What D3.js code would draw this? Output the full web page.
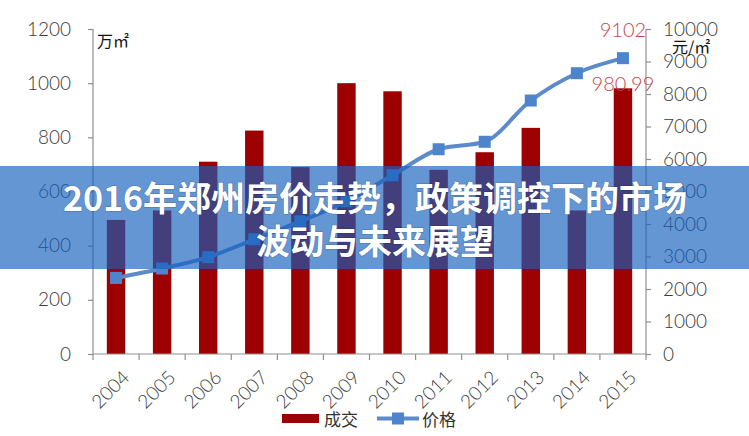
<!DOCTYPE html>
<html><head><meta charset="utf-8">
<script src="https://cdn.jsdelivr.net/npm/d3@7"></script>
<style>
html,body{margin:0;padding:0;background:#fff;}
svg{display:block;}
</style></head>
<body>
<svg id="c" width="749" height="436"></svg>
<script>
const years = ["2004","2005","2006","2007","2008","2009","2010","2011","2012","2013","2014","2015"];
const sales = [495, 530, 710, 825, 690, 1000, 970, 680, 745, 835, 530, 980.99];
const prices = [2340, 2630, 2980, 3530, 4080, 4700, 5500, 6300, 6530, 7800, 8640, 9102];
const leftTicks = [0, 200, 400, 600, 800, 1000, 1200];
const rightTicks = [0, 1000, 2000, 3000, 4000, 5000, 6000, 7000, 8000, 9000, 10000];
const seriesNames = ["成交", "价格"];
const leftUnit = "万㎡";
const rightUnit = "元/㎡";
const titleLines = ["2016年郑州房价走势，政策调控下的市场", "波动与未来展望"];

const svg = d3.select("#c");
const L = 93, R = 646, T = 29, B = 354;
const axisColor = "#8f8f8f";
const tickFont = "Lato, 'Open Sans', sans-serif";

const x = d3.scaleBand().domain(years).range([L, R]).padding(0);
const yL = d3.scaleLinear().domain([0, 1200]).range([B, T]);
const yR = d3.scaleLinear().domain([0, 10000]).range([B, T]);
const bw = x.bandwidth();

// bars
svg.append("g").selectAll("rect").data(years).join("rect")
  .attr("x", d => x(d) + bw * 0.3)
  .attr("width", bw * 0.4)
  .attr("y", (d, i) => yL(sales[i]))
  .attr("height", (d, i) => B - yL(sales[i]))
  .attr("fill", "#9c0000");

// left axis
const gL = svg.append("g").attr("transform", `translate(${L},0)`)
  .call(d3.axisLeft(yL).tickValues(leftTicks).tickSize(5).tickPadding(17).tickFormat(d3.format("d")));
// right axis
const gR = svg.append("g").attr("transform", `translate(${R},0)`)
  .call(d3.axisRight(yR).tickValues(rightTicks).tickSize(5).tickPadding(12).tickFormat(d3.format("d")));
// bottom axis
const gB = svg.append("g").attr("transform", `translate(0,${B})`)
  .call(d3.axisBottom(x).tickSize(0).tickPadding(8));
[gL, gR, gB].forEach(g => {
  g.select(".domain").attr("stroke", axisColor).attr("stroke-width", 1.2);
  g.selectAll(".tick line").attr("stroke", axisColor).attr("stroke-width", 1.2);
  g.selectAll("text").attr("font-family", tickFont).attr("font-weight", 300)
    .attr("font-size", 19).attr("fill", "#3a3a3a");
});
gR.select(".domain").attr("d", `M0,${T}V${B}`);
gL.select(".domain").attr("d", `M0,${T}V${B}`);
gB.select(".domain").attr("d", `M${L},0H${R}`);
// band boundary ticks on x axis
gB.selectAll("line.bt").data(years.concat(["end"])).join("line").attr("class", "bt")
  .attr("x1", (d, i) => L + i * bw).attr("x2", (d, i) => L + i * bw)
  .attr("y1", 0).attr("y2", 6).attr("stroke", axisColor).attr("stroke-width", 1.2);
gB.selectAll(".tick text")
  .attr("text-anchor", "end")
  .attr("dy", 0)
  .attr("transform", "translate(9,19) rotate(-45)");

// unit labels
svg.append("text").attr("x", 97).attr("y", 47).text(leftUnit)
  .attr("font-family", "'Noto Sans CJK SC', sans-serif").attr("font-size", 16).attr("fill", "#111");
svg.append("text").attr("x", 672).attr("y", 53).text(rightUnit)
  .attr("font-family", "'Noto Sans CJK SC', sans-serif").attr("font-size", 16).attr("fill", "#111");

// price line
const line = d3.line().x((d, i) => x(years[i]) + bw / 2).y(d => yR(d)).curve(d3.curveMonotoneX);
svg.append("path").datum(prices).attr("d", line)
  .attr("fill", "none").attr("stroke", "#5b8bcb").attr("stroke-width", 4);
svg.append("g").selectAll("rect").data(prices).join("rect")
  .attr("x", (d, i) => x(years[i]) + bw / 2 - 6)
  .attr("y", d => yR(d) - 6)
  .attr("width", 12).attr("height", 12)
  .attr("fill", "#4e84cc");

// data labels for last point
const lastI = years.length - 1;
svg.append("text").attr("x", x(years[lastI]) + bw / 2).attr("y", yR(prices[lastI]) - 21)
  .attr("text-anchor", "middle").text(String(prices[lastI]))
  .attr("font-family", tickFont).attr("font-weight", 300).attr("font-size", 20).attr("fill", "#c0474f");
svg.append("text").attr("x", x(years[lastI]) + bw / 2).attr("y", yL(sales[lastI]) + 3)
  .attr("text-anchor", "middle").text(String(sales[lastI]))
  .attr("font-family", tickFont).attr("font-weight", 300).attr("font-size", 20).attr("fill", "#c0474f");

// legend
const lg = svg.append("g");
lg.append("rect").attr("x", 282).attr("y", 414).attr("width", 37).attr("height", 9).attr("fill", "#9c0000");
lg.append("text").attr("x", 324).attr("y", 426).text(seriesNames[0])
  .attr("font-family", "'Noto Sans CJK SC', sans-serif").attr("font-size", 17).attr("fill", "#333");
lg.append("line").attr("x1", 377).attr("x2", 419).attr("y1", 418.5).attr("y2", 418.5)
  .attr("stroke", "#5b8bcb").attr("stroke-width", 4);
lg.append("rect").attr("x", 392).attr("y", 412.5).attr("width", 12).attr("height", 12).attr("fill", "#4e84cc");
lg.append("text").attr("x", 422).attr("y", 426).text(seriesNames[1])
  .attr("font-family", "'Noto Sans CJK SC', sans-serif").attr("font-size", 17).attr("fill", "#333");

// banner overlay
svg.append("rect").attr("x", 0).attr("y", 166).attr("width", 749).attr("height", 103)
  .attr("fill", "rgb(22,95,190)").attr("fill-opacity", 0.66);
const tt = svg.append("g").attr("font-family", "'Noto Sans CJK SC', sans-serif")
  .attr("font-weight", 700).attr("font-size", 34).attr("fill", "#fff").attr("text-anchor", "middle");
tt.append("text").attr("x", 375).attr("y", 211).text(titleLines[0])
  .attr("stroke", "rgba(0,0,0,0.18)").attr("stroke-width", 1.5).attr("paint-order", "stroke");
tt.append("text").attr("x", 375).attr("y", 254).text(titleLines[1])
  .attr("stroke", "rgba(0,0,0,0.18)").attr("stroke-width", 1.5).attr("paint-order", "stroke");
</script>
</body></html>
